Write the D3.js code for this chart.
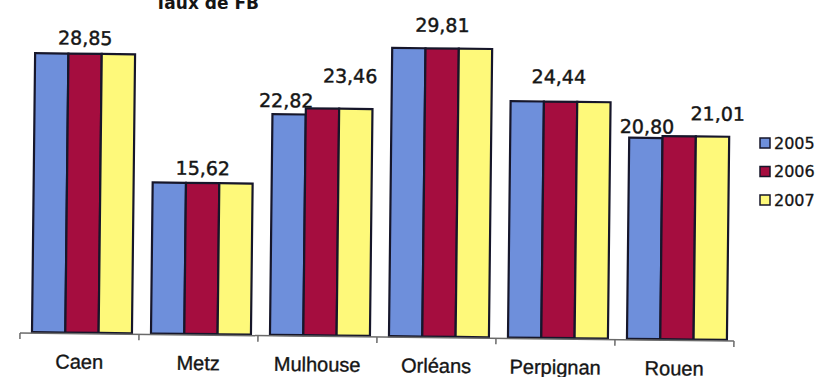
<!DOCTYPE html>
<html>
<head>
<meta charset="utf-8">
<script src="https://cdn.jsdelivr.net/npm/d3@7"></script>
<style>
  html, body { margin: 0; padding: 0; background: #ffffff; }
  svg { display: block; }
</style>
</head>
<body>
<script>
// Taux de FB by city, 2005-2007
const cities = ["Caen", "Metz", "Mulhouse", "Orléans", "Perpignan", "Rouen"];
const years = ["2005", "2006", "2007"];
const v2005 = [28.85, 15.62, 22.82, 29.81, 24.44, 20.80];
const v2006 = [28.85, 15.62, 23.46, 29.81, 24.44, 21.01];
const v2007 = [28.85, 15.62, 23.46, 29.81, 24.44, 21.01];
const title = "Taux de FB";

const series = [v2005, v2006, v2007];
const colors = ["#6e8fdb", "#a50d3f", "#fef97a"];

const W = 821, H = 377;
const svg = d3.select("body").append("svg")
  .attr("width", W).attr("height", H)
  .style("background", "#ffffff");

// plot frame (slightly tilted, as printed)
const baseY = 332, leftX = 20, rightX = 734;
const tilt = Math.atan(8 / 714) * 180 / Math.PI;
const g = svg.append("g")
  .attr("transform", `rotate(${tilt},${leftX},${baseY})`);

const x0 = d3.scaleBand()
  .domain(cities)
  .range([leftX, rightX])
  .paddingInner(0.16)
  .paddingOuter(0.08)
  .align(0.63);

const x1 = d3.scaleBand()
  .domain(years)
  .range([0, x0.bandwidth()]);

const y = d3.scaleLinear()
  .domain([0, 30])
  .range([baseY, baseY - 290.1]);

// bars
const rows = cities.map((c, i) => ({
  city: c,
  vals: years.map((yr, k) => ({ year: yr, k, value: series[k][i] }))
}));

const groups = g.selectAll("g.city")
  .data(rows)
  .join("g")
  .attr("class", "city")
  .attr("transform", d => `translate(${x0(d.city)},0)`);

groups.selectAll("rect")
  .data(d => d.vals)
  .join("rect")
  .attr("x", d => x1(d.year))
  .attr("y", d => y(d.value))
  .attr("width", x1.bandwidth())
  .attr("height", d => y(0) - y(d.value))
  .attr("fill", d => colors[d.k])
  .attr("stroke", "#16162a")
  .attr("stroke-width", 2.2);

// category axis
const step = x0.step();
const tickXs = d3.range(cities.length + 1).map(i => leftX + i * step);
g.append("line")
  .attr("x1", leftX).attr("x2", rightX)
  .attr("y1", baseY + 1).attr("y2", baseY + 1)
  .attr("stroke", "#6a6a6a").attr("stroke-width", 1.5);
g.selectAll("line.tick")
  .data(tickXs)
  .join("line")
  .attr("class", "tick")
  .attr("x1", d => d).attr("x2", d => d)
  .attr("y1", baseY + 1).attr("y2", baseY + 7)
  .attr("stroke", "#6a6a6a").attr("stroke-width", 1.5);

g.selectAll("text.cat")
  .data(cities)
  .join("text")
  .attr("class", "cat")
  .attr("x", (d, i) => leftX + (i + 0.5) * step)
  .attr("y", 368)
  .attr("text-anchor", "middle")
  .attr("font-family", "'Liberation Sans', Arial, sans-serif")
  .attr("font-size", 20)
  .attr("fill", "#151515")
  .attr("stroke", "#151515").attr("stroke-width", 0.35)
  .text(d => d);

// value labels: which year's value each label shows, and where it sits
const fmt = v => v.toFixed(2).replace(".", ",");
const labelSpecs = [
  { city: "Caen",      k: 0, over: "group", dx: 0,  lift: 9 },
  { city: "Metz",      k: 0, over: "group", dx: 0,  lift: 8 },
  { city: "Mulhouse",  k: 0, over: 0,       dx: -3, lift: 7 },
  { city: "Mulhouse",  k: 1, over: 2,       dx: -6, lift: 26 },
  { city: "Orléans",   k: 0, over: "group", dx: 0,  lift: 16.5 },
  { city: "Perpignan", k: 0, over: "group", dx: -2, lift: 18 },
  { city: "Rouen",     k: 0, over: 0,       dx: 1,  lift: 4.5 },
  { city: "Rouen",     k: 1, over: 2,       dx: 5,  lift: 16 }
];

g.selectAll("text.val")
  .data(labelSpecs)
  .join("text")
  .attr("class", "val")
  .attr("x", d => {
    const gx = x0(d.city);
    const cx = d.over === "group"
      ? gx + x0.bandwidth() / 2
      : gx + x1(years[d.over]) + x1.bandwidth() / 2;
    return cx + d.dx;
  })
  .attr("y", d => y(series[d.k][cities.indexOf(d.city)]) - d.lift)
  .attr("text-anchor", "middle")
  .attr("font-family", "'DejaVu Sans', Verdana, sans-serif")
  .attr("font-size", 19)
  .attr("fill", "#151515")
  .attr("stroke", "#151515").attr("stroke-width", 0.45)
  .text(d => fmt(series[d.k][cities.indexOf(d.city)]));

// title
svg.append("text")
  .attr("x", 207).attr("y", 9)
  .attr("text-anchor", "middle")
  .attr("font-family", "'DejaVu Sans', Verdana, sans-serif")
  .attr("font-weight", "bold")
  .attr("font-size", 17)
  .attr("fill", "#151515")
  .text(title);

// legend
const legend = svg.append("g").attr("transform", "translate(760,138)");
const li = legend.selectAll("g")
  .data(years)
  .join("g")
  .attr("transform", (d, i) => `translate(0,${i * 28.5})`);
li.append("rect")
  .attr("width", 10).attr("height", 10)
  .attr("fill", (d, i) => colors[i])
  .attr("stroke", "#16162a").attr("stroke-width", 1.5);
li.append("text")
  .attr("x", 14).attr("y", 10.5)
  .attr("font-family", "'DejaVu Sans', Verdana, sans-serif")
  .attr("font-size", 16)
  .attr("fill", "#151515")
  .attr("stroke", "#151515").attr("stroke-width", 0.3)
  .text(d => d);
</script>
</body>
</html>
